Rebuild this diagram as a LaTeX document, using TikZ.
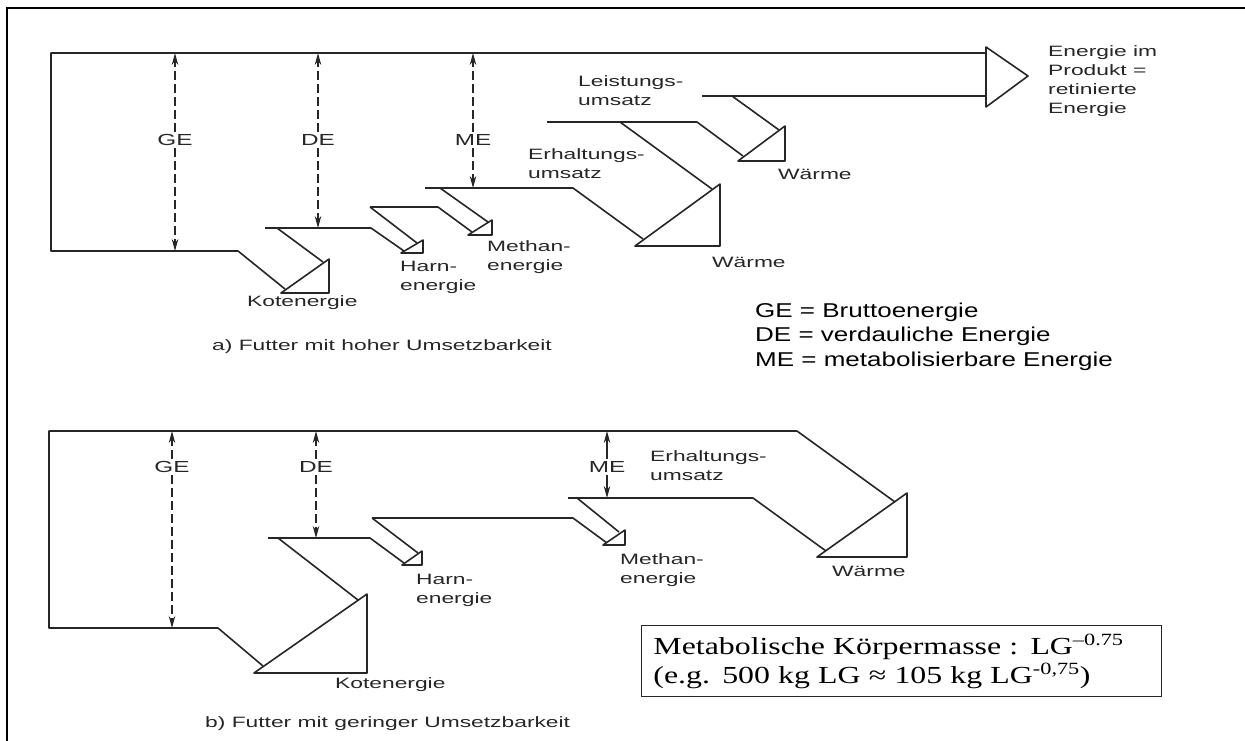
\documentclass[tikz,border=0pt]{standalone}
\usepackage{fontspec}
\setmainfont{Liberation Serif}[FakeStretch=1.3]
\newfontfamily\scanfont{Liberation Sans}[FakeStretch=1.52]
\newfontfamily\legendfont{Liberation Sans}[FakeStretch=1.3]
\usetikzlibrary{arrows.meta}

\begin{document}
\begin{tikzpicture}[
    x=1pt, y=-1pt,
    >=Stealth,
    flow/.style={draw=black!85, line width=1.6pt, line join=round},
    dimline/.style={black!85, line width=1.2pt, dash pattern=on 9pt off 4pt,
                    -{Stealth[length=12pt, width=6.5pt]}},
    dimsolid/.style={black!85, line width=1.2pt,
                     -{Stealth[length=12pt, width=6.5pt]}},
    dimlbl/.style={fill=white, inner sep=2.5pt, text=black!85,
                   font=\scanfont\fontsize{16}{19}\selectfont},
    lbl/.style={anchor=west, align=left, inner sep=0pt, text=black!85,
                font=\scanfont\fontsize{15}{19}\selectfont},
    legend/.style={anchor=west, align=left, inner sep=0pt,
                   font=\legendfont\fontsize{20}{24.5}\selectfont},
    massbox/.style={draw=black!85, line width=0.9pt, anchor=north west,
                    minimum height=71pt, text width=496pt, inner xsep=12pt,
                    inner ysep=0pt, align=left,
                    font=\fontsize{24.5}{29}\selectfont}
  ]
  \useasboundingbox (0,0) rectangle (1245,740);

  % Frame
  \draw[line width=2.6pt] (7,741) -- (7,8) -- (1246,8);

  % a) main band and losses
  \draw[flow] (986,53) -- (51,53) -- (51,251) -- (238,251) -- (285,289);
  \draw[flow] (265,228) -- (371,228) -- (404,251);
  \draw[flow] (277,228) -- (323,262);
  \draw[flow] (281,293) -- (329,259) -- (329,293) -- cycle;
  \draw[flow] (370,207) -- (438,207) -- (472,232);
  \draw[flow] (370,207) -- (417,243);
  \draw[flow] (401,253) -- (423,240) -- (423,253) -- cycle;
  \draw[flow] (425,188) -- (573,188) -- (643,239);
  \draw[flow] (440,188) -- (488,222);
  \draw[flow] (468,235) -- (492,220) -- (492,235) -- cycle;
  \draw[flow] (547,122) -- (697,122) -- (743,156);
  \draw[flow] (620,122) -- (712,189);
  \draw[flow] (635,246) -- (720,184) -- (720,246) -- cycle;
  \draw[flow] (702,96) -- (986,96);
  \draw[flow] (732,96) -- (779,130);
  \draw[flow] (738,161) -- (785,126) -- (785,161) -- cycle;
  \draw[flow] (986,47) -- (1028,76) -- (986,107) -- cycle;

  % a) dimension arrows
  \foreach \nm/\xx/\yb in {GE/175/251, DE/318/228, ME/473/188} {
    \node[dimlbl] (dimA\nm) at (\xx,140) {\nm};
    \draw[dimline] (dimA\nm) -- (\xx,53);
    \draw[dimline] (dimA\nm) -- (\xx,\yb);
  }

  % a) labels
  \node[lbl] (prodLbl) at (1048,81) {Energie im\\Produkt =\\retinierte\\Energie};
  \node[lbl] (leistLbl) at (578,91) {Leistungs-\\umsatz};
  \node[lbl] (erhLblA) at (528,163.5) {Erhaltungs-\\umsatz};
  \node[lbl] (waermeLblL) at (778,174) {Wärme};
  \node[lbl] (waermeLblA) at (712,262) {Wärme};
  \node[lbl] (methLblA) at (487,257.5) {Methan-\\energie};
  \node[lbl] (harnLblA) at (400,277.5) {Harn-\\energie};
  \node[lbl] (kotLblA) at (247,303) {Kotenergie};
  \node[lbl] (capA) at (212,347) {a) Futter mit hoher Umsetzbarkeit};

  % Legend
  \node[legend] (legendTxt) at (755,336.5)
    {GE = Bruttoenergie\\DE = verdauliche Energie\\ME = metabolisierbare Energie};

  % b) main band and losses
  \draw[flow] (797,431) -- (49,431) -- (49,628) -- (218,628) -- (263,666);
  \draw[flow] (797,431) -- (895,502);
  \draw[flow] (268,538) -- (370,538) -- (404,563);
  \draw[flow] (278,538) -- (358,600);
  \draw[flow] (254,673) -- (367,594) -- (367,673) -- cycle;
  \draw[flow] (372,518) -- (573,518) -- (607,543);
  \draw[flow] (372,518) -- (418,553);
  \draw[flow] (402,565) -- (422,551) -- (422,565) -- cycle;
  \draw[flow] (568,498) -- (753,498) -- (826,551);
  \draw[flow] (577,498) -- (619,532);
  \draw[flow] (603,545) -- (625,530) -- (625,545) -- cycle;
  \draw[flow] (817,557) -- (907,493) -- (907,557) -- cycle;

  % b) dimension arrows
  \foreach \nm/\xx/\yb/\st in {GE/172/628/dimline, DE/316/538/dimline,
                               ME/607/498/dimsolid} {
    \node[dimlbl] (dimB\nm) at (\xx,467) {\nm};
    \draw[\st] (dimB\nm) -- (\xx,431);
    \draw[\st] (dimB\nm) -- (\xx,\yb);
  }

  % b) labels
  \node[lbl] (erhLblB) at (650,466) {Erhaltungs-\\umsatz};
  \node[lbl] (waermeLblB) at (832,571) {Wärme};
  \node[lbl] (methLblB) at (620,570.5) {Methan-\\energie};
  \node[lbl] (harnLblB) at (416,590.5) {Harn-\\energie};
  \node[lbl] (kotLblB) at (335,685) {Kotenergie};
  \node[lbl] (capB) at (205,724) {b) Futter mit geringer Umsetzbarkeit};

  % Box
  \node[massbox] (massBox) at (641,625)
    {Metabolische Körpermasse : LG\textsuperscript{–0.75}\\(e.g. 500 kg LG ≈ 105 kg LG\textsuperscript{-0,75})};
\end{tikzpicture}
\end{document}
